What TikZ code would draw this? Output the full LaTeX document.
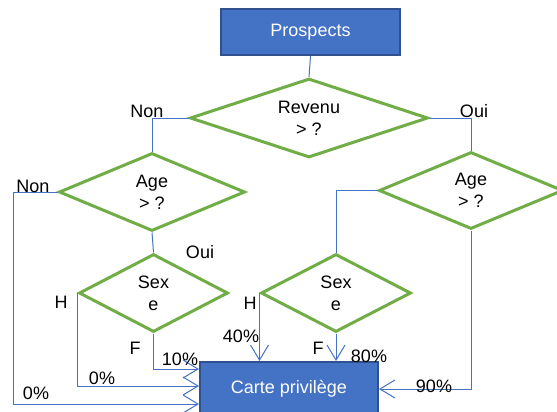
\documentclass[tikz,border=0pt]{standalone}
\usepackage{fontspec}
\setmainfont{Liberation Sans}
\usetikzlibrary{shapes.geometric, arrows.meta}

\definecolor{boxblue}{HTML}{4472C4}
\definecolor{boxedge}{HTML}{2F528F}
\definecolor{testgreen}{HTML}{70AD47}

\tikzset{
	startbox/.style = {rectangle, draw = boxedge, line width = 2pt, fill = boxblue, text = white, inner sep = 0pt},
	testbox/.style = {diamond, draw = testgreen, line width = 3pt, align = center, inner sep = 0pt, aspect = 2.5},
	link/.style = {draw = boxblue, line width = 1pt},
	linkarrow/.style = {link, -{Straight Barb[length = 15pt, width = 18pt]}},
	tag/.style = {inner sep = 0pt}
}

\begin{document}
\begin{tikzpicture}[x = 1pt, y = -1pt, every node/.style = {font = \fontsize{18}{22}\selectfont}]
		\useasboundingbox (0,0) rectangle (557,412);
		\clip (0,0) rectangle (557,412);
		
		\begin{scope}
			\node [startbox, minimum width = 179pt, minimum height = 46pt] (prospects) at (310.5,32) {Prospects};
			\node [startbox, minimum width = 178pt, minimum height = 54pt] (carte) at (289,389) {Carte privilège};
		\end{scope}
		
		\begin{scope}
			\node [testbox, minimum width = 238pt, minimum height = 79pt] (revenu) at (309,118) {Revenu\\> ?};
			\node [testbox, minimum width = 186pt, minimum height = 78pt] (ageL) at (152,192) {Age\\> ?};
			\node [testbox, minimum width = 184pt, minimum height = 77pt] (ageR) at (471,190.5) {Age\\> ?};
			\node [testbox, minimum width = 149pt, minimum height = 78pt] (sexeL) at (153.5,293) {Sex\\e};
			\node [testbox, minimum width = 150pt, minimum height = 78pt] (sexeR) at (336,293) {Sex\\e};
		\end{scope}
		
		\coordinate (in1) at ([yshift = 20pt]carte.west);
		\coordinate (in2) at ([yshift = 3pt]carte.west);
		\coordinate (in3) at ([yshift = -15pt]carte.west);
		
		\begin{scope}
			\draw [link] (prospects.south) -- (revenu.north);
			\draw [link] (revenu.west) -| (ageL.north);
			\draw [link] (revenu.east) -| (ageR.north);
			\draw [link] (ageL.south) -- (sexeL.north);
			\draw [link] (ageR.west) -| (sexeR.north);
		\end{scope}
		
		\begin{scope}
			\draw [linkarrow] (ageL.west) -- ++(-44,0) |- (in3);
			\draw [linkarrow] (sexeL.west) |- (in2);
			\draw [linkarrow] (sexeL.south) |- (in1);
			\draw [linkarrow] (sexeR.west) -- (sexeR.west |- carte.north);
			\draw [linkarrow] (sexeR.south) -- (sexeR.south |- carte.north);
			\draw [linkarrow] (ageR.south) |- (carte.east);
		\end{scope}
		
		\begin{scope}
			\node [tag] (nonRevenu) at (147,111) {Non};
			\node [tag] (ouiRevenu) at (474,111) {Oui};
			\node [tag] (nonAge) at (33,186) {Non};
			\node [tag] (ouiAge) at (200,252) {Oui};
			\node [tag] (hLeft) at (61,302) {H};
			\node [tag] (fLeft) at (135,348) {F};
			\node [tag] (pctFLeft) at (180,359) {10\%};
			\node [tag] (pctHLeft) at (102,378) {0\%};
			\node [tag] (pctNon) at (36,393) {0\%};
			\node [tag] (hRight) at (250,303) {H};
			\node [tag] (pctHRight) at (241,336) {40\%};
			\node [tag] (fRight) at (318,348) {F};
			\node [tag] (pctFRight) at (369,356) {80\%};
			\node [tag] (pctOui) at (434,386) {90\%};
		\end{scope}
	\end{tikzpicture}
\end{document}
